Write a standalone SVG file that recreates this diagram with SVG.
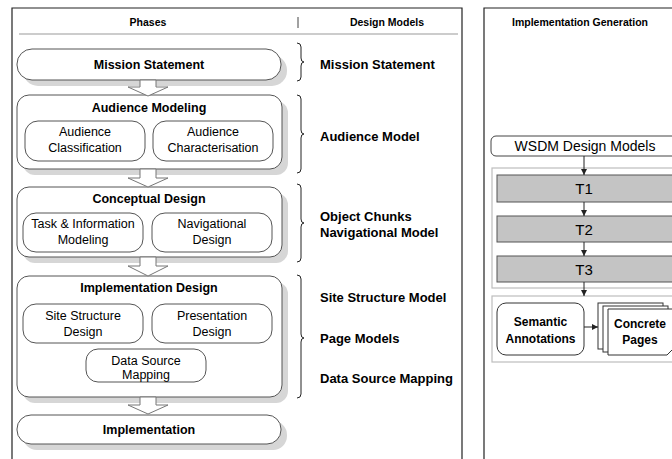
<svg xmlns="http://www.w3.org/2000/svg" width="672" height="459" viewBox="0 0 672 459">
<style>
text{font-family:"Liberation Sans",Arial,sans-serif;fill:#000}
.hdr{font-size:10.5px;font-weight:bold;text-anchor:middle}
.ttl{font-size:12.5px;font-weight:bold;text-anchor:middle}
.sub{font-size:12.5px;text-anchor:middle}
.mdl{font-size:13px;font-weight:bold}
.big{fill:#fff;stroke:#555;stroke-width:1}
.shd{fill:#d6d6d6;stroke:none}
.subbox{fill:#fff;stroke:#555;stroke-width:1}
.blk{fill:#fff;stroke:#777;stroke-width:1}
.brace{fill:none;stroke:#222;stroke-width:1}
.frame{fill:none;stroke:#222;stroke-width:1.2}
.cont{fill:#fff;stroke:#bdbdbd;stroke-width:1.2}
.tbox{fill:#c4c4c4;stroke:#555;stroke-width:1}
.tt{font-size:15px;text-anchor:middle}
.sb{font-size:12px;font-weight:bold;text-anchor:middle}
.conn{stroke:#222;stroke-width:1;fill:none}
.page{fill:#fff;stroke:#333;stroke-width:1}
</style>
<defs>
<marker id="ah" viewBox="0 0 10 10" refX="10" refY="5" markerWidth="6" markerHeight="6" orient="auto" markerUnits="userSpaceOnUse"><path d="M0,0 L10,5 L0,10 z" fill="#222"/></marker>
</defs>
<rect width="672" height="459" fill="#fff"/>

<g id="left-panel">
<path class="frame" d="M12,470 V8 H462 V470"/>
<line x1="19" y1="34" x2="458" y2="34" stroke="#999" stroke-width="1.2"/>
<line x1="298" y1="17" x2="298" y2="28" stroke="#444" stroke-width="1"/>
<text class="hdr" x="148" y="25.5">Phases</text>
<text class="hdr" x="387" y="25.5">Design Models</text>
</g>

<g id="right-panel">
<path class="frame" d="M484,470 V8 H680"/>
<text class="hdr" x="580" y="25.5">Implementation Generation</text>
</g>

<g id="mission-statement">
<rect class="shd" x="23" y="55" width="264" height="31" rx="15"/>
<rect class="big" x="17" y="49" width="264" height="31" rx="15"/>
<text class="ttl" x="149" y="68.5">Mission Statement</text>
</g>

<g id="audience-modeling">
<rect class="shd" x="23" y="101" width="265" height="74" rx="12"/>
<rect class="big" x="17" y="95" width="265" height="74" rx="12"/>
<text class="ttl" x="149" y="111.5">Audience Modeling</text>
<g id="audience-classification">
<rect class="subbox" x="25" y="121" width="120" height="40" rx="13"/>
<text class="sub" x="85" y="136">Audience</text>
<text class="sub" x="85" y="152">Classification</text>
</g>
<g id="audience-characterisation">
<rect class="subbox" x="153" y="121" width="120" height="40" rx="13"/>
<text class="sub" x="213" y="136">Audience</text>
<text class="sub" x="213" y="152">Characterisation</text>
</g>
</g>

<g id="conceptual-design">
<rect class="shd" x="23" y="193" width="265" height="70" rx="12"/>
<rect class="big" x="17" y="187" width="265" height="70" rx="12"/>
<text class="ttl" x="149" y="202.5">Conceptual Design</text>
<g id="task-information-modeling">
<rect class="subbox" x="23" y="213" width="120" height="39" rx="13"/>
<text class="sub" x="83" y="227.5">Task &amp; Information</text>
<text class="sub" x="83" y="243.5">Modeling</text>
</g>
<g id="navigational-design">
<rect class="subbox" x="152" y="213" width="120" height="39" rx="13"/>
<text class="sub" x="212" y="227.5">Navigational</text>
<text class="sub" x="212" y="243.5">Design</text>
</g>
</g>

<g id="implementation-design">
<rect class="shd" x="23" y="282" width="265" height="121" rx="12"/>
<rect class="big" x="17" y="276" width="265" height="121" rx="12"/>
<text class="ttl" x="149" y="291.5">Implementation Design</text>
<g id="site-structure-design">
<rect class="subbox" x="23" y="304" width="120" height="39" rx="13"/>
<text class="sub" x="83" y="320">Site Structure</text>
<text class="sub" x="83" y="335.5">Design</text>
</g>
<g id="presentation-design">
<rect class="subbox" x="152" y="304" width="120" height="39" rx="13"/>
<text class="sub" x="212" y="320">Presentation</text>
<text class="sub" x="212" y="335.5">Design</text>
</g>
<g id="data-source-mapping">
<rect class="subbox" x="86" y="349" width="120" height="33" rx="12"/>
<text class="sub" x="146" y="365">Data Source</text>
<text class="sub" x="146" y="379">Mapping</text>
</g>
</g>

<g id="implementation">
<rect class="shd" x="23" y="421" width="264" height="29" rx="14"/>
<rect class="big" x="17" y="415" width="264" height="29" rx="14"/>
<text class="ttl" x="149" y="433.5">Implementation</text>
</g>

<g id="model-mission">
<path class="brace" d="M297,43 Q301,43 301,47 V58 Q301,62 304,62 Q301,62 301,66 V77 Q301,81 297,81"/>
<text class="mdl" x="320" y="68.5">Mission Statement</text>
</g>
<g id="model-audience">
<path class="brace" d="M297,95 Q301,95 301,99 V130 Q301,134 304,134 Q301,134 301,138 V169 Q301,173 297,173"/>
<text class="mdl" x="320" y="140.5">Audience Model</text>
</g>
<g id="model-conceptual">
<path class="brace" d="M297,184 Q301,184 301,188 V219 Q301,223 304,223 Q301,223 301,227 V258 Q301,262 297,262"/>
<text class="mdl" x="320" y="220.5">Object Chunks</text>
<text class="mdl" x="320" y="236.5">Navigational Model</text>
</g>
<g id="model-implementation">
<path class="brace" d="M297,275 Q301,275 301,279 V334 Q301,338 304,338 Q301,338 301,342 V394 Q301,398 297,398"/>
<text class="mdl" x="320" y="301.5">Site Structure Model</text>
<text class="mdl" x="320" y="342.5">Page Models</text>
<text class="mdl" x="320" y="382.5">Data Source Mapping</text>
</g>

<g id="wsdm-design-models">
<rect x="491" y="136" width="200" height="20" rx="5" fill="#fff" stroke="#444" stroke-width="1"/>
<text x="585" y="151" font-size="14" text-anchor="middle">WSDM Design Models</text>
</g>
<g id="transformations">
<rect class="cont" x="492" y="168" width="200" height="120"/>
<g id="t1"><rect class="tbox" x="497" y="175" width="190" height="27"/><text class="tt" x="584" y="194">T1</text></g>
<g id="t2"><rect class="tbox" x="497" y="216" width="190" height="26"/><text class="tt" x="584" y="234.5">T2</text></g>
<g id="t3"><rect class="tbox" x="497" y="256" width="190" height="26"/><text class="tt" x="584" y="274.5">T3</text></g>
</g>
<g id="output-container">
<rect class="cont" x="492" y="296" width="200" height="66"/>
</g>
<g id="semantic-annotations">
<rect x="497" y="303" width="87" height="52" rx="9" fill="#fff" stroke="#333" stroke-width="1"/>
<text class="sb" x="540.5" y="326">Semantic</text>
<text class="sb" x="540.5" y="342.5">Annotations</text>
</g>
<g id="concrete-pages">
<rect class="page" x="598" y="303" width="65" height="46"/>
<rect class="page" x="603" y="306" width="65" height="46"/>
<path class="page" d="M608,309 H673 V349 L667,355 H608 Z"/>
<text class="sb" x="640" y="328">Concrete</text>
<text class="sb" x="640" y="344">Pages</text>
</g>

<g id="connectors">
<polygon class="blk" points="140,80 140,87 128,87 148,96 168,87 156,87 156,80"/>
<polygon class="blk" points="140,169 140,178 128,178 148,187 168,178 156,178 156,169"/>
<polygon class="blk" points="140,257 140,266 128,266 148,276 168,266 156,266 156,257"/>
<polygon class="blk" points="140,397 140,405 128,405 148,414 168,405 156,405 156,397"/>
<line class="conn" x1="584" y1="156" x2="584" y2="175" marker-end="url(#ah)"/>
<line class="conn" x1="584" y1="202" x2="584" y2="216" marker-end="url(#ah)"/>
<line class="conn" x1="584" y1="242" x2="584" y2="256" marker-end="url(#ah)"/>
<line class="conn" x1="584" y1="282" x2="584" y2="296" marker-end="url(#ah)"/>
<line class="conn" x1="584" y1="327" x2="598" y2="327" marker-end="url(#ah)"/>
</g>
</svg>
